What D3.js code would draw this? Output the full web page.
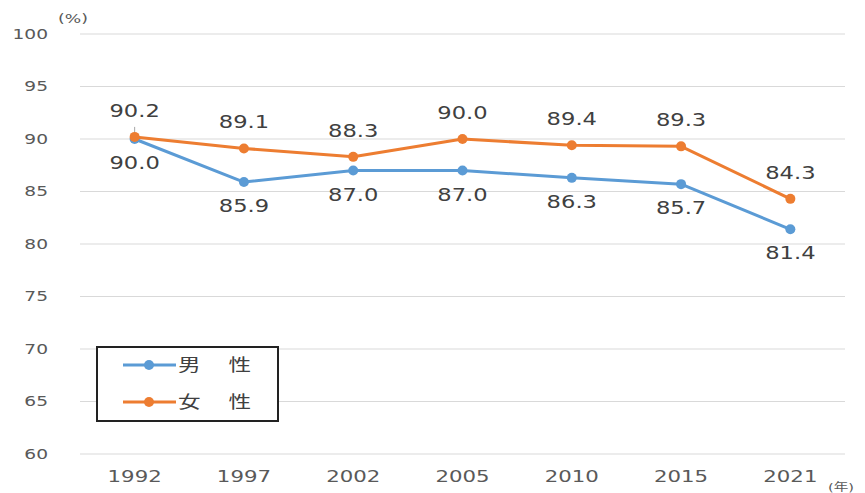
<!DOCTYPE html>
<html><head><meta charset="utf-8">
<script src="https://cdn.jsdelivr.net/npm/d3@7"></script>
<style>body{margin:0;background:#fff}svg{display:block}</style>
</head><body>
<svg id="c" width="865" height="493"></svg>
<script>
const years = ["1992","1997","2002","2005","2010","2015","2021"];
const male = [90.0,85.9,87.0,87.0,86.3,85.7,81.4];
const female = [90.2,89.1,88.3,90.0,89.4,89.3,84.3];
const yTicks = [60,65,70,75,80,85,90,95,100];
const seriesNames = ["男　性","女　性"];
const colors = ["#5B9BD5","#ED7D31"];

const svg = d3.select("#c");
const font = "'DejaVu Sans','Noto Sans CJK JP',sans-serif";
const SX = 1.33;
const x = d3.scaleBand().domain(years).range([80,845]);
const y = d3.scaleLinear().domain([60,100]).range([454,34]);
const cx = d => x(d)+x.bandwidth()/2;

// grid
svg.append("g").selectAll("line").data(yTicks).join("line")
  .attr("x1",80).attr("x2",845).attr("y1",d=>y(d)).attr("y2",d=>y(d))
  .attr("stroke","#d9d9d9").attr("stroke-width",1.2);

// y axis labels
const ya = svg.append("g").attr("transform","translate(48,0)")
  .call(d3.axisLeft(y).tickValues(yTicks).tickSize(0).tickPadding(0));
ya.select(".domain").remove();
ya.selectAll("text").attr("font-family",font).attr("font-size",14).attr("fill","#595959")
  .attr("x",0).attr("transform",`scale(${SX},1)`);

// x axis labels
const xa = svg.append("g").attr("transform","translate(0,482)")
  .call(d3.axisBottom(x).tickSize(0).tickPadding(0));
xa.select(".domain").remove();
xa.selectAll("text").attr("font-family",font).attr("font-size",16).attr("fill","#595959")
  .attr("dy",0).attr("y",0).attr("transform",`scale(${SX},1)`);

function stext(px,py,str,size,fill,anchor){
  return svg.append("text").attr("transform",`translate(${px},${py}) scale(${SX},1)`)
    .attr("text-anchor",anchor||"start").attr("font-family",font).attr("font-size",size)
    .attr("fill",fill).text(str);
}
stext(58,23,"(%)",13,"#595959");
stext(828,491,"(年)",11,"#595959");

// small leader tick at 1992
svg.append("line").attr("x1",cx("1992")).attr("x2",cx("1992"))
  .attr("y1",y(female[0])-10).attr("y2",y(female[0])-2)
  .attr("stroke","#a6a6a6").attr("stroke-width",1);

const series = [male,female];
const line = d3.line().x((d,i)=>cx(years[i])).y(d=>y(d));
series.forEach((s,k)=>{
  svg.append("path").datum(s).attr("d",line).attr("fill","none")
    .attr("stroke",colors[k]).attr("stroke-width",3).attr("stroke-linejoin","round");
  svg.append("g").selectAll("circle").data(s).join("circle")
    .attr("cx",(d,i)=>cx(years[i])).attr("cy",d=>y(d)).attr("r",5).attr("fill",colors[k]);
  svg.append("g").selectAll("text").data(s).join("text")
    .attr("transform",(d,i)=>`translate(${cx(years[i])},${k===1? y(d)-20 : y(d)+30}) scale(${SX},1)`)
    .attr("text-anchor","middle").attr("font-family",font).attr("font-size",17)
    .attr("fill","#404040").text(d=>d.toFixed(1));
});

// legend
const lg = svg.append("g");
lg.append("rect").attr("x",97).attr("y",347).attr("width",181).attr("height",74)
  .attr("fill","#fff").attr("stroke","#222").attr("stroke-width",2);
seriesNames.forEach((n,k)=>{
  const yy = 365 + k*37;
  lg.append("line").attr("x1",123).attr("x2",176).attr("y1",yy).attr("y2",yy)
    .attr("stroke",colors[k]).attr("stroke-width",3);
  lg.append("circle").attr("cx",149).attr("cy",yy).attr("r",5).attr("fill",colors[k]);
  stext(178,yy+6,n,17,"#404040").attr("letter-spacing","2px");
});
</script>
</body></html>
